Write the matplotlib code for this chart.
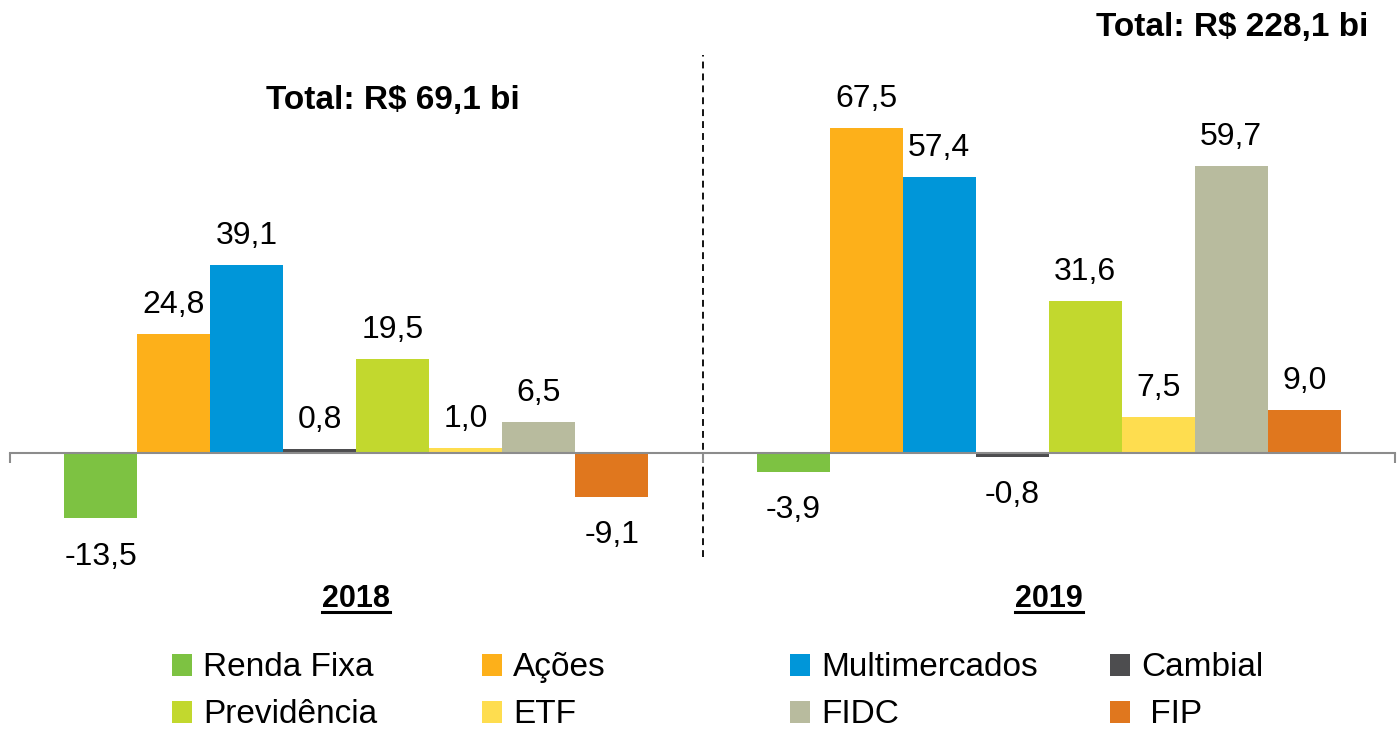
import matplotlib
matplotlib.use("Agg")
import matplotlib.pyplot as plt
import matplotlib.transforms as mtransforms
from matplotlib.patches import Rectangle
from matplotlib.lines import Line2D

categories = ["Renda Fixa", "Ações", "Multimercados", "Cambial",
              "Previdência", "ETF", "FIDC", "FIP"]
legend_labels = ["Renda Fixa", "Ações", "Multimercados", "Cambial",
                 "Previdência", "ETF", "FIDC", " FIP"]
years = ["2018", "2019"]
values_2018 = [-13.5, 24.8, 39.1, 0.8, 19.5, 1.0, 6.5, -9.1]
values_2019 = [-3.9, 67.5, 57.4, -0.8, 31.6, 7.5, 59.7, 9.0]
totals = ["Total: R$ 69,1 bi", "Total: R$ 228,1 bi"]
colors = ["#7DC242", "#FDB01A", "#0096D9", "#4D4D4F",
          "#C2D82E", "#FEDD4F", "#B8BB9E", "#E0771E"]

W, H = 1397, 731
plt.rcParams.update({"font.family": ["Liberation Sans", "DejaVu Sans"]})
fig = plt.figure(figsize=(W / 100, H / 100), dpi=100)


def fx(px):
    return px / W


def fy(py):
    return 1 - py / H


# axes placed so that zero sits at y=453px and 1 unit ~ 4.8px
zero_px, unit_px = 453, 4.815
top_px, bot_px = 30, 600
ax = fig.add_axes([fx(10), fy(bot_px), (1395 - 10) / W, (bot_px - top_px) / H])
ax.set_xlim(-0.5, 1.5)
ax.set_ylim(-(bot_px - zero_px) / unit_px, (zero_px - top_px) / unit_px)

width = 0.1054
n = len(categories)
for gi, vals in enumerate([values_2018, values_2019]):
    for i, v in enumerate(vals):
        x = gi + (i - (n - 1) / 2) * width
        ax.bar(x, v, width=width, color=colors[i], linewidth=0, zorder=2)
        lbl = f"{v:.1f}".replace(".", ",")
        if v >= 0:
            ax.annotate(lbl, (x, v), xytext=(0, 15), textcoords="offset points",
                        ha="center", va="baseline", fontsize=23)
        else:
            ax.annotate(lbl, (x, v), xytext=(0, -17), textcoords="offset points",
                        ha="center", va="top", fontsize=23)

for s in ("left", "right", "top"):
    ax.spines[s].set_visible(False)
ax.spines["bottom"].set_position(("data", 0))
ax.spines["bottom"].set_color("#8C8C8C")
ax.spines["bottom"].set_linewidth(1.5)
ax.spines["bottom"].set_zorder(3)
ax.set_yticks([])
ax.set_xticks([-0.5, 0.5, 1.5])
ax.set_xticklabels([])
ax.tick_params(axis="x", direction="out", length=7, width=1.5, color="#8C8C8C")
ax.patch.set_visible(False)

# dashed separator between the two years
ax.plot([0.5, 0.5], [-21.6, 82.7], color="black", lw=1.3, ls=(0, (3.8, 2.8)), zorder=1)

# totals
fig.text(fx(393), fy(109), totals[0], ha="center", va="baseline", fontsize=24, weight="bold")
fig.text(fx(1368), fy(36), totals[1], ha="right", va="baseline", fontsize=24, weight="bold")

# year labels, underlined
trans = mtransforms.blended_transform_factory(ax.transData, fig.transFigure)
year_texts = [ax.text(gi, fy(607), y, transform=trans, ha="center", va="baseline",
                      fontsize=22, weight="bold") for gi, y in enumerate(years)]
fig.canvas.draw()
for t in year_texts:
    bb = t.get_window_extent()
    fig.add_artist(Line2D([bb.x0 / W, bb.x1 / W], [fy(612), fy(612)],
                          transform=fig.transFigure, color="black", lw=2.2))

# legend, two rows of four
col_x = [172, 482, 790, 1110]
row_base = [676, 723]
for i, (lab, c) in enumerate(zip(legend_labels, colors)):
    r, k = divmod(i, 4)
    x0, yb = col_x[k], row_base[r]
    fig.add_artist(Rectangle((fx(x0), fy(yb)), 20 / W, 22 / H,
                             transform=fig.transFigure, color=c, linewidth=0))
    fig.text(fx(x0 + 31), fy(yb), lab, ha="left", va="baseline", fontsize=24)

fig.savefig("out.png", dpi=100)
